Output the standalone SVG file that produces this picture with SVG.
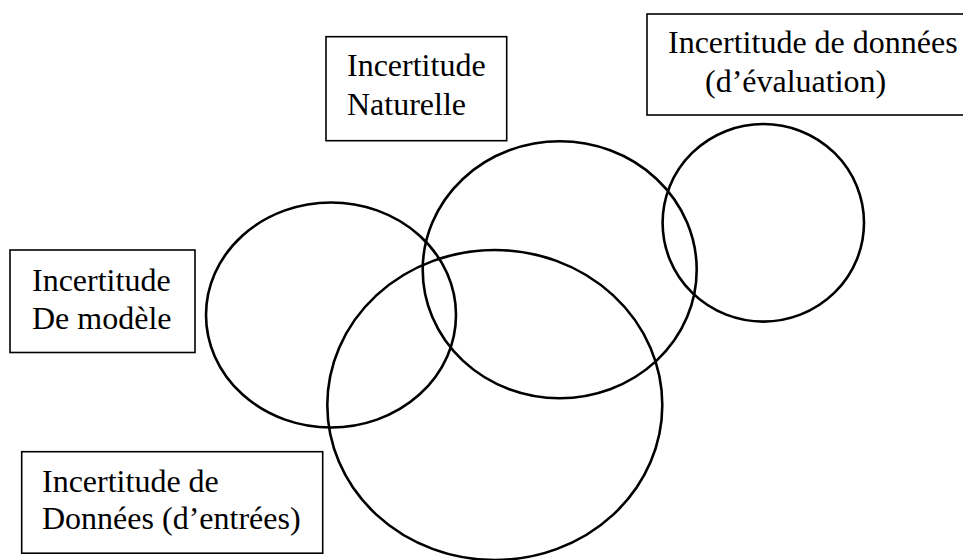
<svg xmlns="http://www.w3.org/2000/svg" width="963" height="560" viewBox="0 0 963 560">
<style>
.box{fill:#fff;stroke:#000;stroke-width:1.6}
.c{fill:none;stroke:#000;stroke-width:2.6}
.t{font-family:"Liberation Serif","Times New Roman",serif;font-size:32px;fill:#000}
</style>
<rect width="963" height="560" fill="#fff"/>
<g id="circles">
<ellipse id="c-modele" class="c" cx="331" cy="315" rx="125" ry="112.5"/>
<ellipse id="c-naturelle" class="c" cx="559.7" cy="269.8" rx="137" ry="128.5"/>
<ellipse id="c-evaluation" class="c" cx="763.3" cy="222.8" rx="100.7" ry="98.8"/>
<ellipse id="c-entrees" class="c" cx="494.8" cy="405" rx="167.5" ry="155"/>
</g>
<g id="n-naturelle">
<rect class="box" x="326" y="36.7" width="180.7" height="104"/>
<text class="t" x="347" y="76">Incertitude</text>
<text class="t" x="347" y="115">Naturelle</text>
</g>
<g id="n-evaluation">
<rect class="box" x="647" y="14" width="330" height="101"/>
<text class="t" x="668" y="53">Incertitude de données</text>
<text class="t" x="705" y="92">(d’évaluation)</text>
</g>
<g id="n-modele">
<rect class="box" x="10" y="250" width="185" height="102.5"/>
<text class="t" x="32" y="290.5">Incertitude</text>
<text class="t" x="32" y="328.5">De modèle</text>
</g>
<g id="n-entrees">
<rect class="box" x="21.7" y="451.7" width="301" height="101.5"/>
<text class="t" x="42" y="491.5">Incertitude de</text>
<text class="t" x="42" y="529">Données (d’entrées)</text>
</g>
<g id="connectors"/>
</svg>
